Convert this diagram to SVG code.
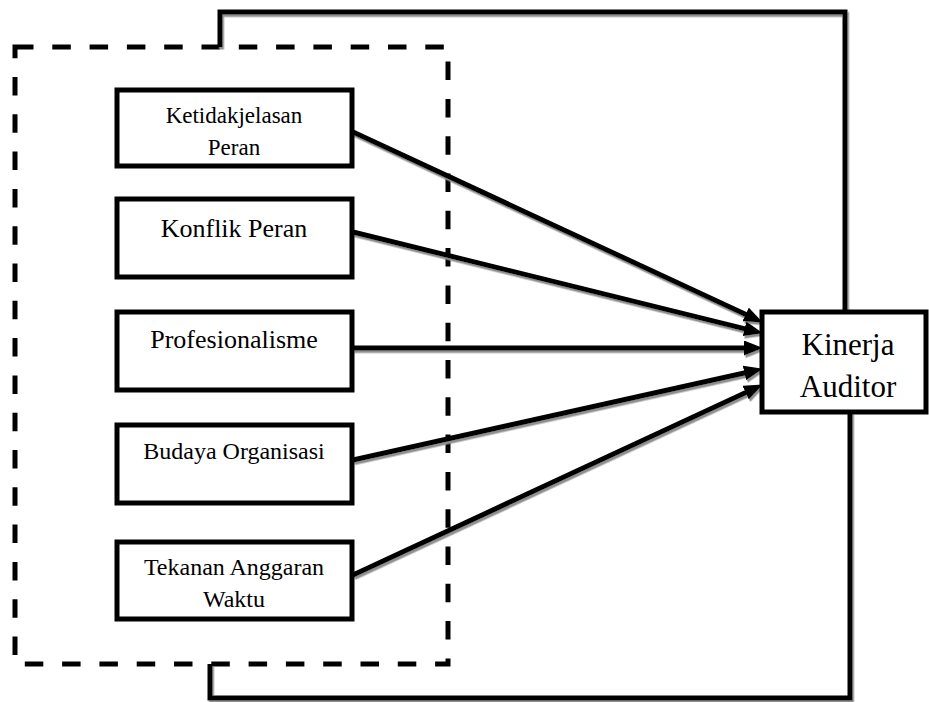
<svg xmlns="http://www.w3.org/2000/svg" width="929" height="702" viewBox="0 0 929 702">
<style>
  .box { fill: #fff; stroke: #000; stroke-width: 5; }
  .lbl { fill: #000; text-anchor: middle; }
  .ln { fill: none; stroke: #000; stroke-width: 5; }
  .dash { fill: none; stroke: #000; stroke-width: 5; stroke-dasharray: 18.5 18.8; }
</style>
<defs>
  <marker id="arr" markerUnits="userSpaceOnUse" markerWidth="19" markerHeight="15" refX="8" refY="7.5" orient="auto" viewBox="0 0 19 15">
    <path d="M0,0 L19,7.5 L0,15 z" fill="#000"/>
  </marker>
  <filter id="sh" x="-5%" y="-5%" width="110%" height="110%">
    <feDropShadow dx="1.5" dy="2.5" stdDeviation="0.4" flood-color="#8f8f8f" flood-opacity="1"/>
  </filter>
</defs>
<rect width="929" height="702" fill="#fff"/>

<g id="group-boundary">
  <path class="dash" d="M15,47 H448 V664 H15 Z"/>
</g>

<g id="connectors" filter="url(#sh)">
  <polyline class="ln" points="220,47 220,12 845,12 845,312"/>
  <polyline class="ln" points="210,664 210,698 850,698 850,412"/>
  <line class="ln" x1="353" y1="132" x2="752.9" y2="317.8" marker-end="url(#arr)"/>
  <line class="ln" x1="353" y1="232" x2="752.3" y2="330.6" marker-end="url(#arr)"/>
  <line class="ln" x1="353" y1="348" x2="752" y2="348" marker-end="url(#arr)"/>
  <line class="ln" x1="353" y1="460" x2="752.2" y2="371.2" marker-end="url(#arr)"/>
  <line class="ln" x1="353" y1="575" x2="752.9" y2="389.2" marker-end="url(#arr)"/>
</g>

<g font-family="Liberation Serif, DejaVu Serif, serif">
<g id="node-ketidakjelasan">
  <rect class="box" x="117" y="90" width="235" height="76"/>
  <text class="lbl" x="234" y="123" font-size="23">Ketidakjelasan</text>
  <text class="lbl" x="234" y="155" font-size="23">Peran</text>
</g>
<g id="node-konflik">
  <rect class="box" x="117" y="199" width="235" height="78"/>
  <text class="lbl" x="234" y="237" font-size="26">Konflik Peran</text>
</g>
<g id="node-profesionalisme">
  <rect class="box" x="117" y="312" width="235" height="78"/>
  <text class="lbl" x="234" y="348" font-size="26">Profesionalisme</text>
</g>
<g id="node-budaya">
  <rect class="box" x="117" y="425" width="235" height="78"/>
  <text class="lbl" x="234" y="459" font-size="24">Budaya Organisasi</text>
</g>
<g id="node-tekanan">
  <rect class="box" x="117" y="542" width="235" height="77"/>
  <text class="lbl" x="234" y="575" font-size="24">Tekanan Anggaran</text>
  <text class="lbl" x="234" y="607" font-size="24">Waktu</text>
</g>
<g id="node-kinerja">
  <rect class="box" x="762" y="312" width="164" height="100"/>
  <text class="lbl" x="848" y="355" font-size="31">Kinerja</text>
  <text class="lbl" x="848" y="397" font-size="31">Auditor</text>
</g>
</g>
</svg>
